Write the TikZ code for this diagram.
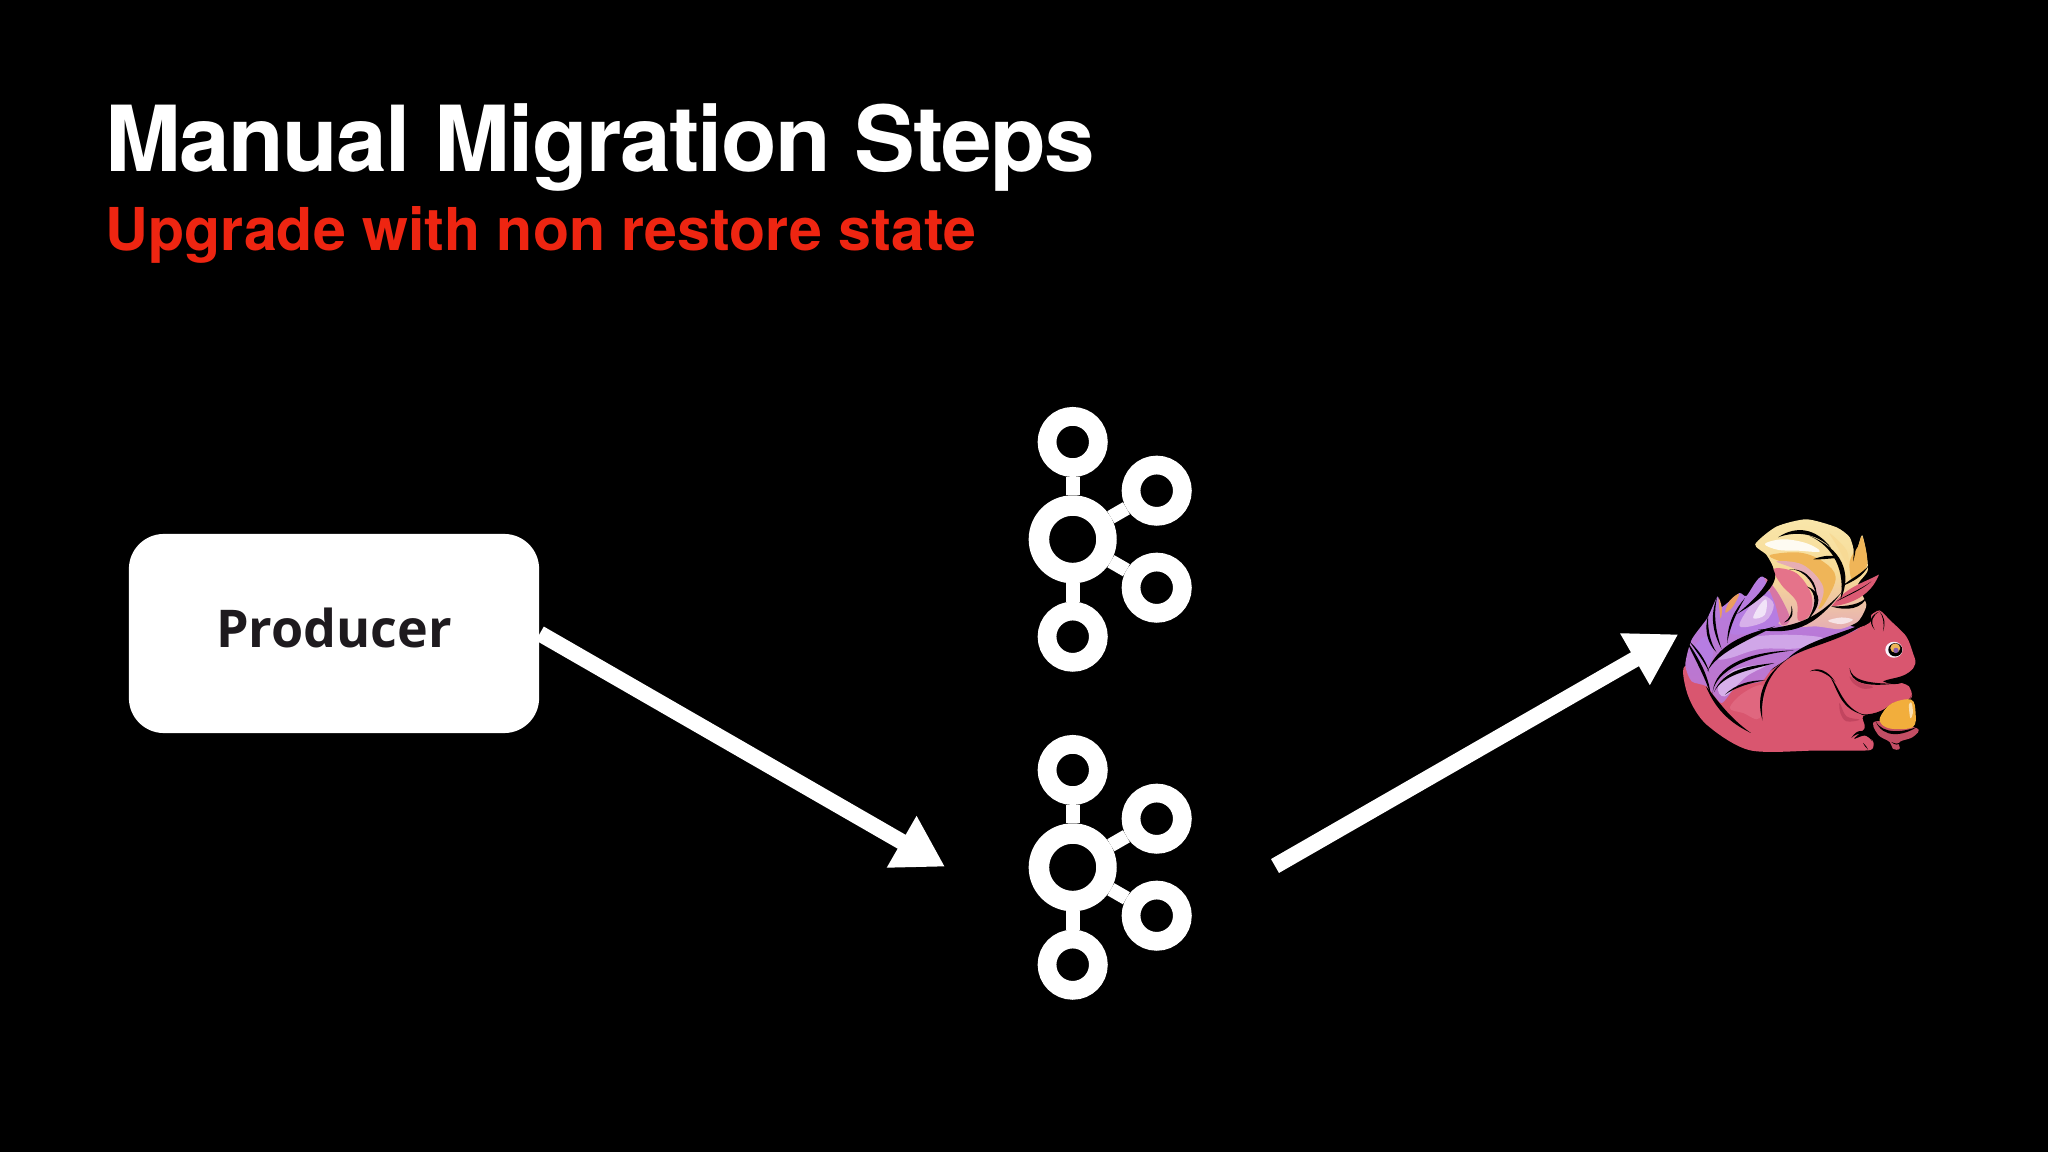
\documentclass[tikz,border=0pt]{standalone}
\usepackage{xcolor}
\usepackage{fontspec}
\usepackage{tikz}
\usetikzlibrary{
	arrows.meta
}
\setmainfont{TeX Gyre Heros}
\newfontfamily\boxfont{Open Sans}

\definecolor{subred}{HTML}{EE2511}
\definecolor{boxink}{HTML}{1E1A1E}
\definecolor{furpink}{HTML}{D9566F}
\definecolor{furdark}{HTML}{C2455F}
\definecolor{furpurple}{HTML}{B67DE2}
\definecolor{furlilac}{HTML}{D7B0EA}
\definecolor{furrose}{HTML}{E5738A}
\definecolor{furmauve}{HTML}{E6AEB4}
\definecolor{furcream}{HTML}{F9E6AA}
\definecolor{furorange}{HTML}{EFB558}
\definecolor{nutgold}{HTML}{F2AE3C}

\newcommand{\brush}[5]{\fill[black] (#1) .. controls (#2) and (#3) .. (#4) .. controls ([shift={(#5)}]#3) and ([shift={(#5)}]#2) .. (#1);}
\newcommand{\patch}[2]{\fill[#1] plot[smooth cycle,tension=0.6] coordinates {#2};}

\tikzset{
	titletext/.style={anchor=base west,inner sep=0pt,text=white,font=\fontsize{25.9pt}{30pt}\selectfont\bfseries\addfontfeature{LetterSpace=-1.9}},
	subtext/.style={anchor=base west,inner sep=0pt,text=subred,font=\fontsize{16.8pt}{20pt}\selectfont\bfseries},
	boxnode/.style={fill=white,rounded corners=0.35cm,minimum width=4.1cm,minimum height=1.99cm,inner sep=0pt,text=boxink,text height=0.37cm,text depth=0.094cm,font=\boxfont\fontsize{14.8pt}{18pt}\selectfont\bfseries},
	hubring/.style={circle,draw=white,line width=0.205cm,minimum size=0.675cm,inner sep=0pt},
	leafring/.style={circle,draw=white,line width=0.187cm,minimum size=0.513cm,inner sep=0pt},
	stem/.style={draw=white,line width=0.14cm},
	bigarrow/.style={draw=white,line width=0.16cm,-{Triangle[length=0.5cm,width=0.56cm]}}
}

\begin{document}
\begin{tikzpicture}[x=0.01cm,y=-0.01cm]
	\fill[black] (0,0) rectangle (2048,1152);
	%
	\node[titletext] (title) at (105,171.7) {Manual Migration Steps};
	\node[subtext] (subtitle) at (105,250.7) {Upgrade with non restore state};
	%
	\node[boxnode] (producer) at (334,633.5) {Producer};
	%
	\foreach \k/\dy in {a/0,b/328} {
		\node[hubring] (\k hub) at (1072.7,539.3+\dy) {};
		\node[leafring] (\k top) at (1072.7,442+\dy) {};
		\node[leafring] (\k up) at (1156.7,490.7+\dy) {};
		\node[leafring] (\k down) at (1156.7,587.7+\dy) {};
		\node[leafring] (\k bot) at (1072.7,636.7+\dy) {};
		\draw[stem] (\k hub) -- (\k top);
		\draw[stem] (\k hub) -- (\k up);
		\draw[stem] (\k hub) -- (\k down);
		\draw[stem] (\k hub) -- (\k bot);
	}
	%
	\coordinate (intip) at (945,866.7);
	\coordinate (outtail) at (1275,866);
	\coordinate (outtip) at (1678.3,634.3);
	\draw[bigarrow] (producer.east) -- (intip);
	\draw[bigarrow] (outtail) -- (outtip);
	%
	% squirrel, coordinates read off the 3x crop
	\begin{scope}[shift={(1650,490)},x=0.0033333cm,y=-0.0033333cm]
		\fill[furpink] plot[smooth cycle,tension=0.5] coordinates {(104,530) (115,620) (170,705) (300,782) (500,783) (640,783) (668,778) (670,755) (645,738) (612,748) (645,715) (640,680) (690,668) (730,640) (785,625) (778,590) (745,575) (770,565) (797,522) (790,490) (770,440) (722,392) (690,362) (665,375) (650,405) (470,470) (330,560) (200,560)};
		% tail
		\shade[top color=furpurple,bottom color=furpurple!80!furpink] plot[smooth cycle,tension=0.4] coordinates {(106,525) (125,450) (172,385) (203,320) (215,352) (268,310) (290,318) (338,260) (420,350) (530,395) (625,415) (560,445) (460,482) (370,535) (335,575) (260,590) (215,640) (170,590) (125,575)};
		\shade[top color=furcream,bottom color=furmauve,middle color=furcream!75!furorange] plot[smooth cycle,tension=0.4] coordinates {(316,163) (380,110) (470,88) (560,112) (600,142) (618,190) (638,136) (655,238) (625,285) (650,345) (625,395) (570,418) (500,410) (400,410) (345,350) (350,285) (372,240) (350,195)};
		\patch{white!65!furmauve}{(535,393) (575,383) (610,390) (575,403)}
		\patch{furorange}{(600,215) (625,170) (638,140) (652,225) (610,272)}
		\patch{furorange!75!furpink}{(206,325) (216,355) (212,385)}
		\patch{furorange!75!furpink}{(268,312) (240,332) (226,368) (248,352)}
		\patch{furpurple}{(240,430) (275,360) (315,325) (350,300) (405,350) (385,400) (325,425)}
		\patch{furlilac}{(270,410) (300,350) (340,318) (372,345) (345,395)}
		\patch{white!65!furlilac}{(310,385) (330,345) (350,330) (345,375)}
		\patch{furrose!70!furpurple}{(345,265) (385,310) (420,385) (395,405) (375,340)}
		\patch{white!85!furcream}{(345,162) (400,148) (470,160) (510,185) (440,182) (385,180)}
		\patch{furcream!75!furorange}{(540,130) (590,180) (595,225) (560,165)}
		\patch{furorange}{(362,195) (450,188) (520,215) (558,262) (528,335) (505,355) (515,285) (470,235) (385,212)}
		\patch{furmauve}{(380,215) (460,225) (520,290) (505,355) (485,365) (490,295) (450,245)}
		\patch{furrose}{(372,237) (440,250) (485,315) (480,375) (445,392) (440,335) (395,285)}
		% lilac swaths
		\patch{furlilac!80!furpurple}{(205,505) (275,450) (395,435) (520,445) (450,475) (330,478) (240,505)}
		\patch{furlilac}{(205,590) (255,540) (350,525) (290,560) (225,620)}
		\patch{furrose!60!furpink}{(240,655) (280,610) (340,590) (330,685) (280,670)}
		\patch{furpurple}{(130,480) (170,440) (190,490) (170,525)}
		% feather
		\fill[furpink!85!furrose] (545,350) .. controls (590,290) and (640,280) .. (688,254) .. controls (670,300) and (630,340) .. cycle;
		\brush{545,350}{590,350}{640,345}{655,315}{0,14}
		\brush{575,290}{605,265}{640,250}{658,225}{0,12}
		\brush{560,335}{590,315}{630,300}{665,275}{0,4}
		% strokes on the tail
		\brush{172,545}{205,465}{275,435}{375,410}{-2,26}
		\brush{325,420}{430,410}{495,395}{578,305}{-4,24}
		\brush{572,330}{610,250}{575,175}{480,138}{-22,-4}
		\brush{545,175}{500,130}{440,122}{385,142}{-1,-16}
		\brush{490,208}{520,198}{545,192}{570,205}{0,12}
		\brush{342,218}{385,245}{345,305}{262,372}{26,4}
		\brush{285,325}{255,360}{232,400}{232,460}{10,0}
		\brush{202,320}{178,380}{190,430}{215,478}{10,0}
		\brush{175,375}{162,420}{172,460}{200,488}{10,0}
		\brush{108,450}{130,500}{165,560}{182,615}{12,-3}
		\brush{168,590}{190,640}{220,690}{303,730}{13,-10}
		\brush{116,452}{135,480}{160,510}{178,548}{7,-3}
		\brush{188,615}{188,548}{260,486}{432,482}{0,14}
		\brush{192,608}{220,538}{300,528}{374,520}{0,14}
		\brush{225,615}{255,585}{300,570}{347,572}{0,9}
		\brush{472,290}{502,310}{502,350}{468,397}{16,-3}
		\brush{418,238}{470,238}{497,290}{500,322}{8,-3}
		\brush{403,398}{420,387}{427,370}{425,348}{6,4}
		\brush{606,145}{612,165}{614,185}{610,215}{8,-8}
		% back and belly
		\brush{338,692}{316,620}{342,548}{428,498}{14,-6}
		\brush{412,508}{470,468}{580,455}{657,393}{4,-22}
		\brush{675,420}{660,395}{670,375}{690,365}{-6,0}
		\brush{700,425}{705,400}{700,380}{690,365}{4,0}
		\brush{645,410}{650,385}{660,372}{690,360}{-5,-5}
		\brush{540,560}{570,590}{575,650}{640,675}{-6,7}
		\brush{630,672}{660,680}{700,665}{725,645}{0,9}
		\brush{480,545}{500,538}{530,548}{557,577}{4,-7}
		\brush{600,535}{605,570}{650,582}{735,582}{-3,10}
		\fill[black] (700,575) .. controls (730,562) and (760,568) .. (790,538) .. controls (785,578) and (740,595) .. cycle;
		\brush{780,590}{790,605}{790,625}{765,640}{0,3}
		\patch{furdark}{(600,560) (625,577) (670,592) (640,597) (610,580)}
		\patch{furdark}{(570,640) (590,680) (630,690) (590,695) (572,670)}
		\brush{605,745}{625,725}{650,730}{668,755}{0,-12}
		\brush{640,760}{645,770}{650,775}{655,780}{3,-2}
		% eye
		\fill[white!85!furlilac] (733,480) ellipse (26 and 24);
		\fill[black] (737,480) ellipse (21 and 20);
		\fill[furorange] (737,475) ellipse (15 and 14);
		\fill[furpurple!75!black] (739,482) ellipse (8 and 8);
		% acorn
		\patch{furpink!90!black}{(678,695) (685,735) (720,757) (730,778) (750,778) (750,757) (790,742) (800,715)}
		\patch{nutgold}{(692,682) (725,642) (785,630) (798,670) (790,712) (730,718) (697,705)}
		\patch{white!60!nutgold}{(778,645) (786,640) (790,670) (782,685)}
		\brush{678,695}{700,735}{760,728}{802,712}{0,12}
		\brush{725,757}{735,762}{745,764}{752,760}{0,4}
	\end{scope}
\end{tikzpicture}
\end{document}
